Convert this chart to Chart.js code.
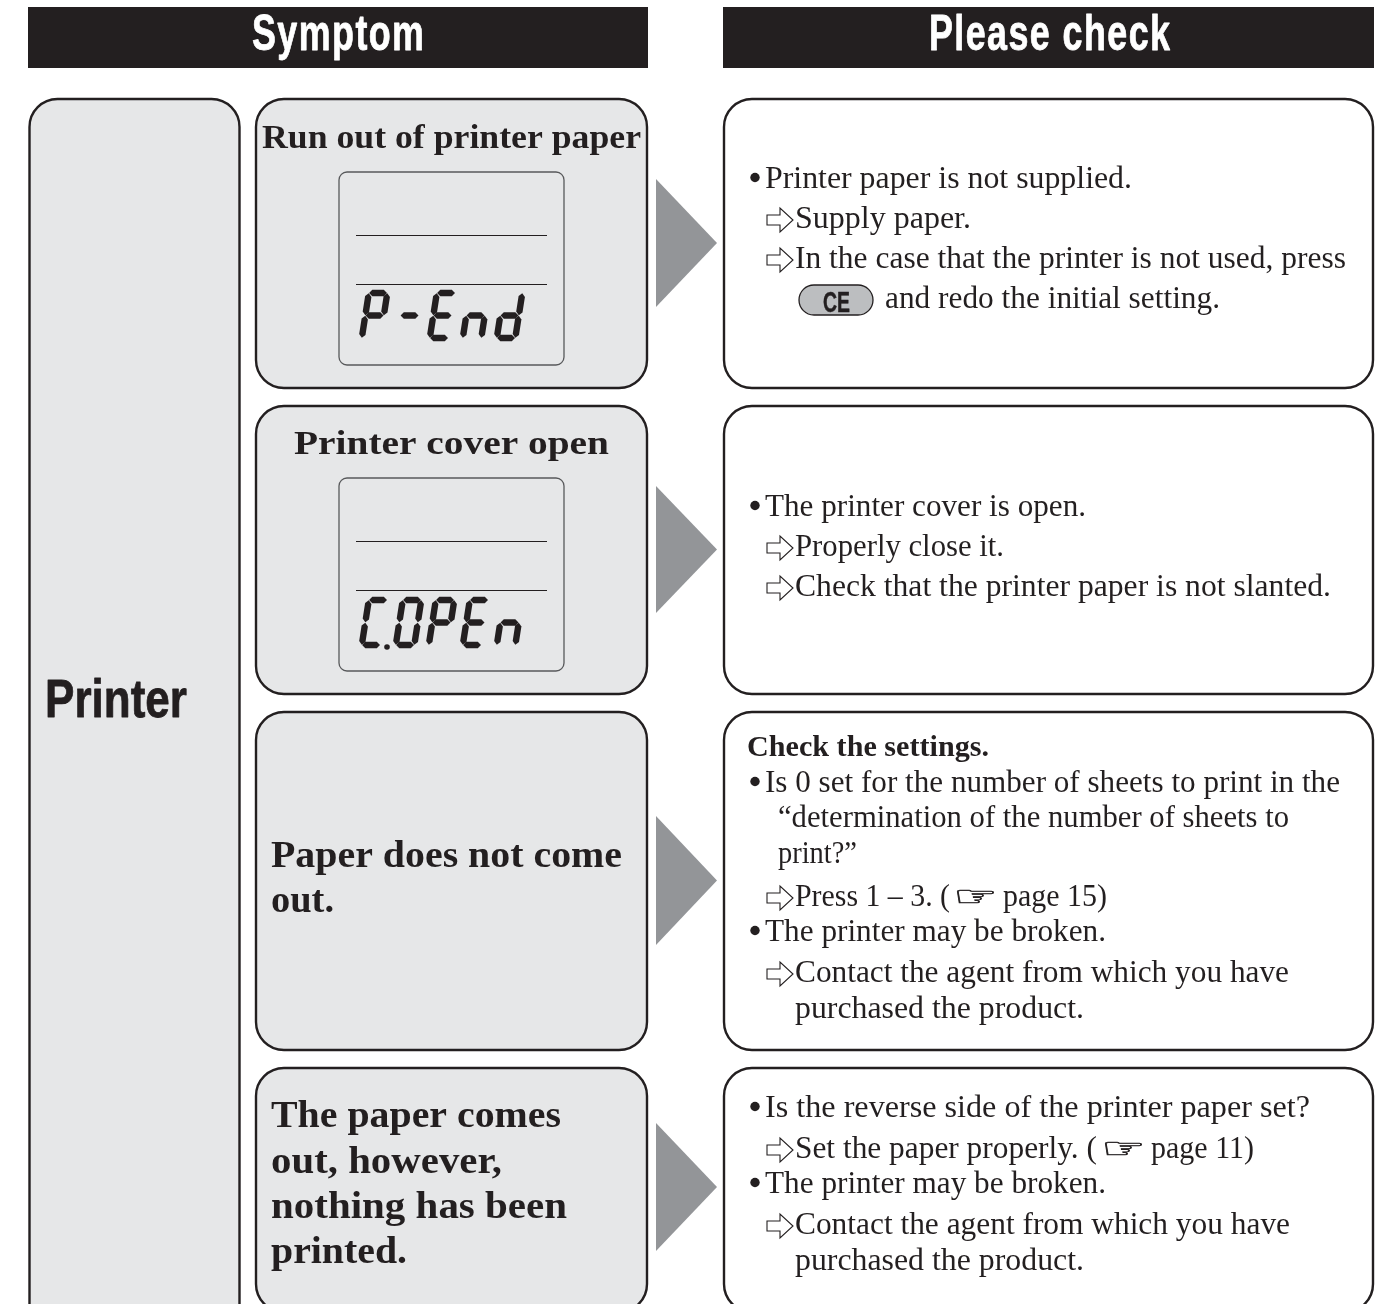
<!DOCTYPE html>
<html><head><meta charset="utf-8">
<style>html,body{margin:0;padding:0;background:#fff;overflow:hidden}canvas{display:block}</style>
<script src="https://cdn.jsdelivr.net/npm/chart.js@4/dist/chart.umd.min.js"></script>
</head><body>
<canvas id="c" width="1385" height="1304" role="img" aria-label="Printer troubleshooting table: P-End, C.OPEn"></canvas>
<script>
const headers = ["Symptom", "Please check"];
const category = ["Printer"];
const displayCodes = ["P-End", "C.OPEn"];
const symptoms = ["Run out of printer paper","Printer cover open","Paper does not come","out.","The paper comes","out, however,","nothing has been","printed."];
const checks = [
 "Printer paper is not supplied.","Supply paper.","In the case that the printer is not used, press","and redo the initial setting.",
 "The printer cover is open.","Properly close it.","Check that the printer paper is not slanted.",
 "Check the settings.","Is 0 set for the number of sheets to print in the","“determination of the number of sheets to","print?”",
 "Press 1 – 3. (","page 15)","The printer may be broken.","Contact the agent from which you have","purchased the product.",
 "Is the reverse side of the printer paper set?","Set the paper properly. (","page 11)","The printer may be broken.","Contact the agent from which you have","purchased the product."];
const keyLabel = ["CE"];
const pointer = "☞";

// layout (page units)
const INK="#231f20", PANEL="#e6e7e8", GREY="#939598";
const headerRects=[[28,648,7,68],[723,1374,7,68]];
const rowBands=[[98,388],[405,694],[711,1050],[1067,1312]];
const lcdBands=[[172,365],[478,671]];
const lcdRules=[[235.5,284.5],[541.5,590.5]];
const headerFit=[[252,424,50],[929,1170,50]];
const symptomFit=[[262,641,148,34],[294,609,454,34],[271,622,867,38],[271,334,912,38],[271,561,1127,38],[271,502,1173,38],[271,567,1218,38],[271,407,1263,38]];
const checkFit=[[765,1132,188],[795,971,228],[795,1346,268],[885,1220,308],
 [765,1086,516],[795,1004,556],[795,1331,596],
 [747,989,756],[765,1340,792],[778,1289,827],[778,857,863],
 [795,950,906],[1003,1107,906],[765,1106,941],[795,1289,982],[795,1084,1018],
 [765,1310,1117],[795,1097,1158],[1151,1254,1158],[765,1106,1193],[795,1290,1234],[795,1084,1270]];
const bulletRows=[0,4,8,13,16,19];
const arrowRows=[1,2,5,6,11,14,17,20];
const handSlots=[[953,998,906],[1101,1146,1158]];
const triangleYs=[[179,307],[486,613],[816,945],[1123,1251]];
const glyphSlots=[[359,394,427,460,494],[359,393,426,460,494]];
const glyphBottoms=[338,645];
const SEGMENTS={P:"abefg","-":"g",E:"adefg",n:"ceg",d:"bcdeg",C:"adef",O:"abcdef"};

const triDatasets=triangleYs.flatMap(([t,b])=>[
  {type:'line',data:[{x:656,y:t},{x:717,y:(t+b)/2}],borderWidth:0,backgroundColor:GREY,fill:'+1',pointRadius:0,tension:0},
  {type:'line',data:[{x:656,y:b},{x:717,y:(t+b)/2}],borderWidth:0,backgroundColor:GREY,fill:false,pointRadius:0,tension:0}
]);
const ruleDatasets=lcdRules.flat().map(y=>({type:'line',data:[{x:356,y},{x:547,y}],borderColor:INK,borderWidth:1,pointRadius:0,fill:false}));
const bulletDs={type:'scatter',data:bulletRows.map(i=>({x:755,y:checkFit[i][2]-10.5})),pointRadius:4.7,pointBackgroundColor:INK,pointBorderWidth:0};

function rr(ctx,x0,x1,y0,y1,r,fill,stroke,lw){
  ctx.beginPath();ctx.roundRect(x0,y0,x1-x0,y1-y0,r);
  if(fill){ctx.fillStyle=fill;ctx.fill();}
  if(stroke){ctx.strokeStyle=stroke;ctx.lineWidth=lw;ctx.stroke();}
}
function fit(ctx,text,x0,x1,base,font,color,spacing,weight){
  ctx.save();ctx.font=font;ctx.fillStyle=color;ctx.textBaseline='alphabetic';ctx.textAlign='left';
  if(spacing)ctx.letterSpacing=spacing+'px';
  const w=ctx.measureText(text).width-(spacing||0);
  ctx.translate(x0,base);ctx.scale((x1-x0)/w,1);ctx.fillText(text,0,0);
  if(weight){ctx.strokeStyle=color;ctx.lineWidth=weight;ctx.lineJoin='round';ctx.strokeText(text,0,0);}
  ctx.restore();
}
function glyph(ctx,ch,left,bottom){
  const W=18.5,H=45,SH=7,T=6.4,G=0.3;
  const P=(u,v)=>[left+2.8+u*W+(v/H)*SH,bottom-v];
  const poly=(a,b)=>{
    const [ax,ay]=P(a[0],a[1]),[bx,by]=P(b[0],b[1]);
    const dx=bx-ax,dy=by-ay,L=Math.hypot(dx,dy),ux=dx/L,uy=dy/L,nx=-uy,ny=ux;
    const s=G+T/2,h=T/2;
    ctx.beginPath();
    ctx.moveTo(ax+ux*G,ay+uy*G);
    ctx.lineTo(ax+ux*s+nx*h,ay+uy*s+ny*h);
    ctx.lineTo(bx-ux*s+nx*h,by-uy*s+ny*h);
    ctx.lineTo(bx-ux*G,by-uy*G);
    ctx.lineTo(bx-ux*s-nx*h,by-uy*s-ny*h);
    ctx.lineTo(ax+ux*s-nx*h,ay+uy*s-ny*h);
    ctx.closePath();ctx.fill();
  };
  const m={a:[[0,H],[1,H]],b:[[1,H],[1,H/2]],c:[[1,H/2],[1,0]],d:[[0,0],[1,0]],e:[[0,H/2],[0,0]],f:[[0,H],[0,H/2]],g:[[0,H/2],[1,H/2]]};
  ctx.fillStyle=INK;
  for(const s of SEGMENTS[ch]){const[a,b]=m[s];poly(a,b);}
}
const diagram={id:'diagram',
 beforeDatasetsDraw(chart){
  const {ctx,scales:{x,y}}=chart;
  const X=v=>x.getPixelForValue(v),Y=v=>y.getPixelForValue(v);
  ctx.save();
  headerRects.forEach(([a,b,c,d])=>{ctx.fillStyle=INK;ctx.fillRect(X(a),Y(c),X(b)-X(a),Y(d)-Y(c));});
  rr(ctx,X(29.5),X(239.5),Y(99),Y(1340),28,PANEL,INK,2.4);
  rowBands.forEach(([t,b])=>{
    rr(ctx,X(256),X(647),Y(t+1),Y(b),28,PANEL,INK,2.4);
    rr(ctx,X(724),X(1373),Y(t+1),Y(b),28,"#fff",INK,2.4);
  });
  lcdBands.forEach(([t,b])=>rr(ctx,X(339),X(564),Y(t),Y(b),8,null,"#58595b",1.3));
  ctx.restore();
 },
 afterDatasetsDraw(chart){
  const {ctx,scales:{x,y}}=chart;
  const X=v=>x.getPixelForValue(v),Y=v=>y.getPixelForValue(v);
  ctx.save();
  headers.forEach((t,i)=>{const[a,b,base]=headerFit[i];fit(ctx,t,X(a),X(b),Y(base),'bold 50px "Liberation Sans"',"#fff",2,0.8);});
  fit(ctx,category[0],X(45),X(187),Y(717),'bold 54px "Liberation Sans"',INK,0,0.8);
  symptoms.forEach((t,i)=>{const[a,b,base,s]=symptomFit[i];fit(ctx,t,X(a),X(b),Y(base),`bold ${s}px "Liberation Serif"`,INK);});
  checks.forEach((t,i)=>{const[a,b,base]=checkFit[i];
    const f=(t===checks[7])?'bold 29px "Liberation Serif"':'31px "Liberation Serif"';
    fit(ctx,t,X(a),X(b),Y(base),f,INK);});
  arrowRows.forEach(i=>{
    const cy=Y(checkFit[i][2]-8),L=X(767);
    ctx.beginPath();ctx.moveTo(L,cy-5);ctx.lineTo(L+13,cy-5);ctx.lineTo(L+13,cy-12);ctx.lineTo(L+26,cy);
    ctx.lineTo(L+13,cy+12);ctx.lineTo(L+13,cy+5);ctx.lineTo(L,cy+5);ctx.closePath();
    ctx.strokeStyle=INK;ctx.lineWidth=1.1;ctx.stroke();
  });
  handSlots.forEach(([a,b,base])=>fit(ctx,pointer,X(a),X(b),Y(base),'bold 28px "DejaVu Sans"',INK,0,0.5));
  rr(ctx,X(799),X(873),Y(285),Y(315),15,"#bcbec0",INK,1.3);
  fit(ctx,keyLabel[0],X(823),X(850),Y(312),'bold 29px "Liberation Sans"',INK,0,0.5);
  displayCodes.forEach((code,k)=>{
    const chars=code.replace('.','').split('');
    chars.forEach((c,i)=>glyph(ctx,c,X(glyphSlots[k][i]),Y(glyphBottoms[k])));
    if(code.includes('.')){ctx.beginPath();ctx.arc(X(387),Y(647),2.8,0,7);ctx.fillStyle=INK;ctx.fill();}
  });
  ctx.restore();
 }
};
new Chart(document.getElementById('c'),{
 type:'scatter',
 data:{datasets:[...triDatasets,...ruleDatasets,bulletDs]},
 options:{responsive:false,animation:false,events:[],
  layout:{padding:0,autoPadding:false},
  plugins:{legend:{display:false},tooltip:{enabled:false},title:{display:false}},
  scales:{
   x:{type:'linear',min:0,max:1385,display:false},
   y:{type:'linear',min:0,max:1304,reverse:true,display:false}
  }},
 plugins:[diagram]
});
</script></body></html>
